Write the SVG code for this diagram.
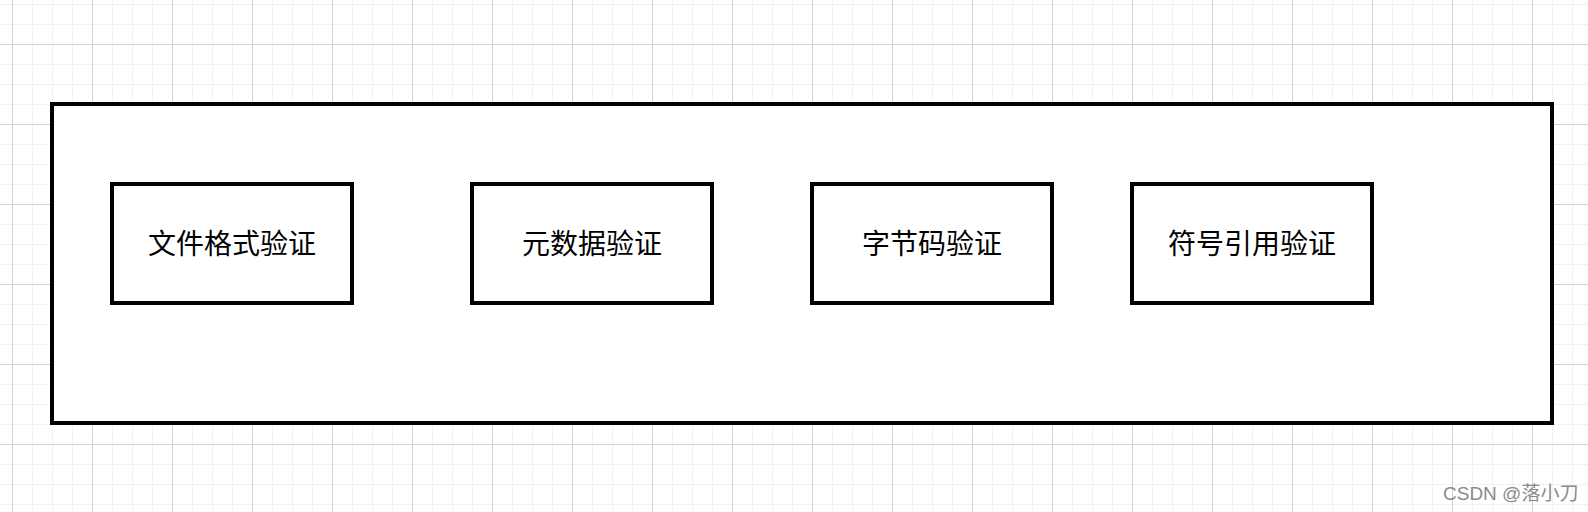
<svg xmlns="http://www.w3.org/2000/svg" width="1588" height="512" viewBox="0 0 1588 512">
  <defs>
    <pattern id="minor" patternUnits="userSpaceOnUse" x="12" y="4" width="20" height="20">
      <path d="M0.5 0V20M0 0.5H20" stroke="#f1f1f1" stroke-width="1" fill="none"/>
    </pattern>
    <pattern id="major" patternUnits="userSpaceOnUse" x="12" y="44" width="80" height="80">
      <path d="M0.5 0V80M0 0.5H80" stroke="#d3d3d3" stroke-width="1" fill="none"/>
    </pattern>
  </defs>
  <style>
    .box { fill: #ffffff; stroke: #000000; stroke-width: 4; }
    .label { font-family: "Noto Sans CJK SC", "Noto Sans", sans-serif; font-size: 28px; fill: #000000; text-anchor: middle; }
    .wm { font-family: "Liberation Sans", "Noto Sans CJK SC", sans-serif; font-size: 19px; fill: #8a8a8a; }
  </style>
  <rect width="1588" height="512" fill="#ffffff"/>
  <rect width="1588" height="512" fill="url(#minor)"/>
  <rect width="1588" height="512" fill="url(#major)"/>
  <g id="container">
    <rect class="box" x="52" y="104" width="1500" height="319"/>
  </g>
  <g id="node-file-format">
    <rect class="box" x="112" y="184" width="240" height="119"/>
    <text class="label" x="232" y="254">文件格式验证</text>
  </g>
  <g id="node-metadata">
    <rect class="box" x="472" y="184" width="240" height="119"/>
    <text class="label" x="592" y="254">元数据验证</text>
  </g>
  <g id="node-bytecode">
    <rect class="box" x="812" y="184" width="240" height="119"/>
    <text class="label" x="932" y="254">字节码验证</text>
  </g>
  <g id="node-symbol-ref">
    <rect class="box" x="1132" y="184" width="240" height="119"/>
    <text class="label" x="1252" y="254">符号引用验证</text>
  </g>
  <g id="connectors"></g>
  <text class="wm" x="1443" y="500">CSDN @落小刀</text>
</svg>
